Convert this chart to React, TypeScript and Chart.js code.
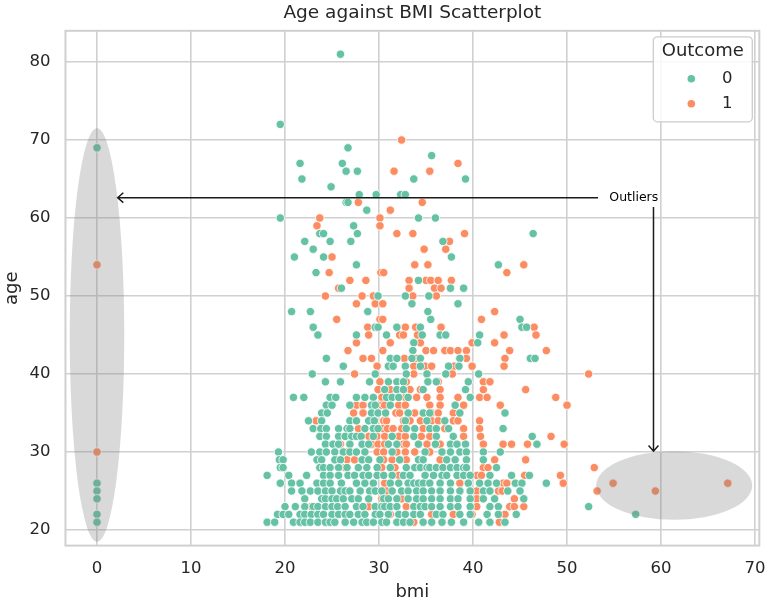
import React, { useEffect, useRef } from "react";
import { Chart, registerables } from "chart.js";

Chart.register(...registerables);

// ---------- DATA ----------
const chartTitle = "Age against BMI Scatterplot";
const xLabel = "bmi";
const yLabel = "age";
const legendTitle = "Outcome";
const seriesLabels = ["0", "1"];
const xTicks = [0, 10, 20, 30, 40, 50, 60, 70];
const yTicks = [20, 30, 40, 50, 60, 70, 80];

// rows: [age, [bmi, bmi, ...]]  — Outcome 0
const outcome0Rows: [number, number[]][] = [
  [81, [25.9]],
  [72, [19.5]],
  [69, [0, 26.7]],
  [68, [35.6]],
  [67, [21.6, 26.1]],
  [66, [26.5, 27.7]],
  [65, [21.8, 33.7, 39.2]],
  [64, [24.9]],
  [63, [27.9, 29.7, 32.3, 32.8]],
  [62, [26.5, 26.7]],
  [61, [28.7]],
  [60, [19.5, 34.2, 36.0]],
  [59, [27.3]],
  [58, [23.7, 24.1, 27.7, 46.4]],
  [57, [22.1, 24.8, 27.0, 36.8]],
  [56, [23.0]],
  [55, [21.0, 24.1, 37.7]],
  [54, [27.6, 42.7]],
  [53, [23.3]],
  [52, [34.2]],
  [51, [26.0, 37.6, 39.0]],
  [50, [29.9, 32.8, 35.3]],
  [49, [33.5, 38.4]],
  [48, [20.7, 22.7, 28.8, 35.2]],
  [47, [35.5, 45.0]],
  [46, [23.0, 29.6, 29.9, 31.9, 34.4, 45.2, 45.7]],
  [45, [23.5, 27.6, 30.8, 34.6, 36.5, 37.1, 40.7]],
  [44, [33.7, 40.5]],
  [43, [33.6]],
  [42, [24.4, 31.2, 31.9, 33.5, 34.4, 38.6, 46.1, 46.6]],
  [41, [26.2, 31.0, 31.5, 32.8, 34.4, 37.4, 38.5]],
  [40, [22.9, 29.6, 32.9, 35.1, 37.1, 40.6]],
  [39, [24.3, 25.9, 29.0, 31.0, 31.9, 32.6, 35.2, 36.1, 39.5]],
  [38, [30.6, 31.9, 32.6, 34.7, 39.2]],
  [37, [20.9, 22.0, 24.8, 25.4, 27.6, 28.5, 29.4, 30.8, 31.4, 32.1, 33.1, 39.7]],
  [36, [24.4, 25.0, 26.9, 29.2, 29.6, 31.2, 38.1]],
  [35, [23.9, 24.5, 29.2, 29.9, 30.7, 33.1, 34.7, 35.4, 38.6, 43.4]],
  [34, [22.5, 23.9, 26.9, 27.6, 28.9, 29.5, 32.8, 35.1, 37.0]],
  [33, [23.0, 23.8, 24.4, 25.7, 26.6, 26.9, 28.5, 29.4, 29.9, 32.9, 33.8, 35.4, 36.1, 37.4, 43.2]],
  [32, [23.7, 24.4, 25.7, 26.4, 27.1, 27.6, 28.1, 29.4, 31.4, 33.7, 36.1, 37.9, 46.3]],
  [31, [24.3, 25.1, 25.7, 26.9, 28.2, 28.9, 31.0, 31.9, 34.2, 36.0, 37.6, 38.3, 39.2, 46.8]],
  [30, [19.3, 22.8, 23.7, 24.4, 25.3, 26.2, 26.9, 27.6, 28.5, 31.4, 34.9, 36.7, 37.6, 38.6, 39.3, 41.1, 42.9]],
  [29, [19.4, 19.8, 23.4, 23.9, 25.3, 25.9, 28.2, 28.9, 30.1, 32.2, 34.2, 34.7, 37.2, 38.1, 39.3, 41.1]],
  [28, [19.5, 19.8, 23.7, 24.1, 24.8, 25.7, 26.6, 27.8, 28.7, 29.8, 31.2, 32.9, 33.8, 34.4, 35.1, 35.4, 36.1, 36.8, 37.6, 38.3, 39.0, 39.3, 42.5]],
  [27, [18.1, 20.4, 22.3, 24.1, 24.8, 25.7, 26.7, 27.4, 28.3, 28.9, 29.8, 30.5, 31.4, 32.6, 33.3, 34.9, 35.8, 36.7, 37.2, 38.3, 39.0, 39.7, 41.8, 44.1, 46.0]],
  [26, [0, 19.5, 20.7, 21.6, 23.4, 24.1, 24.8, 26.0, 27.6, 28.5, 29.4, 31.2, 32.1, 33.1, 33.7, 34.2, 34.7, 35.4, 36.5, 37.6, 39.5, 40.7, 41.6, 42.5, 44.5, 45.2, 47.8]],
  [25, [0, 20.7, 21.8, 22.7, 23.5, 24.3, 25.0, 25.9, 26.4, 26.9, 28.0, 29.0, 29.6, 30.3, 31.4, 32.4, 33.1, 34.0, 34.7, 35.6, 36.5, 37.6, 38.6, 39.7, 41.1, 41.8, 43.7, 45.0]],
  [24, [0, 22.1, 23.9, 24.3, 25.0, 25.5, 26.2, 27.1, 27.8, 28.9, 30.5, 31.0, 31.9, 33.1, 34.0, 34.7, 35.6, 36.5, 37.6, 38.4, 39.7, 41.1, 42.3, 45.4]],
  [23, [20.0, 21.1, 22.1, 23.0, 23.5, 24.3, 25.0, 25.6, 26.4, 27.6, 28.3, 29.6, 30.3, 30.6, 31.2, 31.9, 33.7, 34.4, 34.9, 35.6, 36.5, 37.6, 38.4, 39.7, 41.8, 42.7, 52.3]],
  [22, [0, 19.2, 19.8, 20.4, 21.6, 22.1, 22.8, 23.5, 24.1, 25.0, 25.7, 26.4, 26.9, 27.8, 28.5, 29.6, 30.1, 31.0, 32.1, 32.8, 33.7, 34.4, 36.1, 36.8, 38.6, 39.7, 41.5, 42.7, 44.6, 57.3]],
  [21, [0, 18.1, 18.9, 20.9, 21.6, 22.1, 22.7, 23.5, 24.3, 24.8, 25.3, 26.4, 27.3, 28.2, 28.7, 29.4, 30.3, 30.8, 31.9, 32.6, 33.3, 34.7, 35.6, 36.7, 37.7, 39.0, 40.6, 41.8, 43.4]],
];

// Outcome 1
const outcome1Rows: [number, number[]][] = [
  [70, [32.4]],
  [67, [38.4]],
  [66, [31.6, 35.4]],
  [62, [27.8, 34.6]],
  [61, [31.2]],
  [60, [23.7, 30.1]],
  [59, [23.4, 30.1]],
  [58, [31.9, 33.6, 39.1]],
  [57, [37.5]],
  [56, [34.8, 37.1]],
  [55, [25.0]],
  [54, [0, 33.8, 35.2, 45.4]],
  [53, [24.7, 30.2, 30.5, 43.6]],
  [52, [26.9, 28.6, 33.2, 35.0, 35.5, 36.3, 37.7]],
  [51, [25.7, 33.2, 35.9, 36.6]],
  [50, [24.3, 28.2, 29.4, 33.6, 36.1]],
  [49, [27.6, 29.6, 30.4]],
  [48, [42.3]],
  [47, [25.5, 30.1, 30.4, 40.9]],
  [46, [28.8, 32.8, 33.9, 36.6, 46.5]],
  [45, [28.9, 32.2, 32.6, 34.1, 43.3, 46.7]],
  [44, [27.6, 31.2, 34.4, 39.9, 42.3]],
  [43, [26.7, 30.4, 35.0, 35.8, 37.0, 37.6, 38.4, 39.3, 43.9, 47.8]],
  [42, [28.3, 29.2, 32.7, 34.0, 39.3, 43.4]],
  [41, [29.8, 33.7, 34.9, 35.6, 38.0, 39.9, 43.3]],
  [40, [27.4, 33.7, 37.8, 52.3]],
  [39, [30.1, 32.9, 36.3, 41.1, 41.8]],
  [38, [29.9, 31.2, 33.3, 34.4, 36.5, 41.1, 45.6]],
  [37, [30.3, 32.8, 34.0, 35.1, 36.5, 38.4, 40.7, 41.5, 48.8]],
  [36, [27.6, 28.3, 30.3, 30.6, 32.1, 32.8, 35.4, 36.5, 39.0, 42.9, 50.0]],
  [35, [27.3, 28.3, 31.8, 32.2, 33.8, 35.6, 36.3, 37.9]],
  [34, [23.3, 30.5, 30.8, 32.6, 33.3, 34.4, 35.6, 36.3, 37.9, 38.4, 40.7]],
  [33, [27.8, 30.4, 30.9, 31.5, 32.4, 34.7, 37.0, 39.0, 40.7, 43.2]],
  [32, [28.9, 29.8, 30.6, 32.1, 32.8, 34.5, 35.4, 39.0, 40.8, 48.3]],
  [31, [25.9, 29.2, 29.9, 30.6, 32.6, 32.9, 35.1, 36.5, 41.1, 43.2, 44.1, 45.8, 49.7]],
  [30, [0, 26.6, 29.8, 30.5, 31.9, 32.8, 33.8, 35.4]],
  [29, [26.6, 27.4, 30.5, 31.4, 32.9, 36.5, 42.3, 45.6]],
  [28, [26.4, 30.3, 31.7, 41.1, 41.6, 52.9]],
  [27, [32.1, 40.4, 40.9, 45.5, 49.3]],
  [26, [30.6, 38.6, 43.2, 43.6, 49.6, 54.9, 67.1]],
  [25, [30.8, 40.4, 42.7, 43.1, 53.2, 59.4]],
  [24, [30.3, 32.4, 40.4, 44.4]],
  [23, [22.8, 28.9, 32.9, 40.4, 43.9, 44.4, 45.4]],
  [22, [31.2, 35.6, 37.9, 39.9, 42.8, 43.4]],
  [21, [33.7, 42.8]],
];

// annotation (data units)
const outlierEllipses = [
  { cx: 0, cy: 45, w: 5.8, h: 53 },
  { cx: 61.4, cy: 25.7, w: 16.6, h: 8.8 },
];
const outlierText = { text: "Outliers", x: 54.5, y: 62.6 };
const outlierArrows = [
  { from: [53.3, 62.6], to: [2.2, 62.6] },
  { from: [59.2, 61.4], to: [59.2, 30.1] },
];

const xMin = -3.355;
const xMax = 70.455;
const yMin = 18;
const yMax = 84;

// ---------- STYLE ----------
const GREEN = "#66c2a5";
const ORANGE = "#fc8d62";
const TEXT = "#262626";
const GRID = "#d0d0d0";
const FONT = "'DejaVu Sans', sans-serif";

const toPoints = (rows: [number, number[]][]) =>
  rows.flatMap(([age, bmis]) => bmis.map((b) => ({ x: b, y: age })));

function drawArrow(ctx: CanvasRenderingContext2D, x1: number, y1: number, x2: number, y2: number) {
  const ang = Math.atan2(y2 - y1, x2 - x1);
  const len = 7.5;
  const spread = 0.72;
  ctx.beginPath();
  ctx.moveTo(x1, y1);
  ctx.lineTo(x2, y2);
  ctx.moveTo(x2 - len * Math.cos(ang - spread), y2 - len * Math.sin(ang - spread));
  ctx.lineTo(x2, y2);
  ctx.lineTo(x2 - len * Math.cos(ang + spread), y2 - len * Math.sin(ang + spread));
  ctx.stroke();
}

const overlayPlugin = {
  id: "overlay",
  beforeDatasetsDraw(chart: any) {
    const { ctx, chartArea: a } = chart;
    ctx.save();
    ctx.strokeStyle = GRID;
    ctx.lineWidth = 2;
    ctx.strokeRect(a.left, a.top, a.right - a.left, a.bottom - a.top);
    ctx.restore();
  },
  afterDatasetsDraw(chart: any) {
    const { ctx } = chart;
    const xs = chart.scales.x;
    const ys = chart.scales.y;
    ctx.save();
    for (const e of outlierEllipses) {
      const cx = xs.getPixelForValue(e.cx);
      const cy = ys.getPixelForValue(e.cy);
      const rx = Math.abs(xs.getPixelForValue(e.cx + e.w / 2) - cx);
      const ry = Math.abs(ys.getPixelForValue(e.cy + e.h / 2) - cy);
      ctx.beginPath();
      ctx.ellipse(cx, cy, rx, ry, 0, 0, Math.PI * 2);
      ctx.fillStyle = "rgba(128,128,128,0.3)";
      ctx.fill();
    }
    ctx.strokeStyle = "#1a1a1a";
    ctx.lineWidth = 1.5;
    for (const ar of outlierArrows) {
      drawArrow(
        ctx,
        xs.getPixelForValue(ar.from[0]),
        ys.getPixelForValue(ar.from[1]),
        xs.getPixelForValue(ar.to[0]),
        ys.getPixelForValue(ar.to[1])
      );
    }
    ctx.fillStyle = "#000";
    ctx.font = `12.5px ${FONT}`;
    ctx.textAlign = "left";
    ctx.textBaseline = "middle";
    ctx.fillText(outlierText.text, xs.getPixelForValue(outlierText.x), ys.getPixelForValue(outlierText.y));
    ctx.restore();
  },
  afterDraw(chart: any) {
    const { ctx, chartArea: a } = chart;
    ctx.save();
    // title
    ctx.fillStyle = TEXT;
    ctx.font = `18.5px ${FONT}`;
    ctx.textAlign = "center";
    ctx.textBaseline = "middle";
    ctx.fillText(chartTitle, (a.left + a.right) / 2, 13);
    // legend
    const w = 99;
    const h = 85;
    const left = a.right - 7 - w;
    const top = a.top + 6;
    ctx.beginPath();
    ctx.roundRect(left, top, w, h, 4);
    ctx.fillStyle = "rgba(255,255,255,0.85)";
    ctx.fill();
    ctx.strokeStyle = "#cccccc";
    ctx.lineWidth = 1.3;
    ctx.stroke();
    ctx.fillStyle = TEXT;
    ctx.font = `18px ${FONT}`;
    ctx.fillText(legendTitle, left + w / 2, top + 15);
    const colors = [GREEN, ORANGE];
    seriesLabels.forEach((lab, i) => {
      const yy = top + 42 + i * 25;
      ctx.beginPath();
      ctx.arc(left + 38, yy, 3.8, 0, Math.PI * 2);
      ctx.fillStyle = colors[i];
      ctx.fill();
      ctx.fillStyle = TEXT;
      ctx.font = `16.5px ${FONT}`;
      ctx.fillText(lab, left + 74, yy);
    });
    ctx.restore();
  },
};

export default function App() {
  const canvasRef = useRef<HTMLCanvasElement | null>(null);

  useEffect(() => {
    if (!canvasRef.current) return;
    Chart.defaults.font.family = FONT;
    const pointStyle = (color: string) => ({
      backgroundColor: color,
      borderColor: "#ffffff",
      borderWidth: 0.8,
      pointRadius: 4.2,
      pointHoverRadius: 4.2,
    });
    const noPad = (s: any) => {
      s.paddingLeft = 0;
      s.paddingRight = 0;
      s.paddingTop = 0;
      s.paddingBottom = 0;
    };
    const chart = new Chart(canvasRef.current, {
      type: "scatter",
      data: {
        datasets: [
          { label: seriesLabels[0], data: toPoints(outcome0Rows), ...pointStyle(GREEN) },
          { label: seriesLabels[1], data: toPoints(outcome1Rows), ...pointStyle(ORANGE) },
        ],
      },
      options: {
        animation: false,
        responsive: true,
        maintainAspectRatio: false,
        events: [],
        layout: { padding: { top: 30.8, right: 9.7, left: 0, bottom: 0 } },
        plugins: {
          legend: { display: false },
          tooltip: { enabled: false },
          title: { display: false },
        },
        scales: {
          x: {
            type: "linear",
            min: xMin,
            max: xMax,
            afterBuildTicks: (s: any) => {
              s.ticks = xTicks.map((v) => ({ value: v }));
            },
            afterFit: (s: any) => {
              s.height = 60.4;
              noPad(s);
            },
            grid: { color: GRID, lineWidth: 1.6, drawTicks: false },
            border: { display: false },
            ticks: { padding: 13, color: TEXT, font: { size: 16.5 }, maxRotation: 0 },
            title: {
              display: true,
              text: xLabel,
              color: TEXT,
              font: { size: 18 },
              padding: { top: 0, bottom: 3 },
            },
          },
          y: {
            type: "linear",
            min: yMin,
            max: yMax,
            afterBuildTicks: (s: any) => {
              s.ticks = yTicks.map((v) => ({ value: v }));
            },
            afterFit: (s: any) => {
              s.width = 65.46;
              noPad(s);
            },
            grid: { color: GRID, lineWidth: 1.6, drawTicks: false },
            border: { display: false },
            ticks: { padding: 15, color: TEXT, font: { size: 16.5 } },
            title: {
              display: true,
              text: yLabel,
              color: TEXT,
              font: { size: 18 },
              padding: { top: 2, bottom: 0 },
            },
          },
        },
      },
      plugins: [overlayPlugin],
    } as any);
    return () => chart.destroy();
  }, []);

  return (
    <div style={{ position: "fixed", left: 0, top: 0, width: 769, height: 606, background: "#ffffff" }}>
      <canvas ref={canvasRef} style={{ display: "block" }} />
    </div>
  );
}
